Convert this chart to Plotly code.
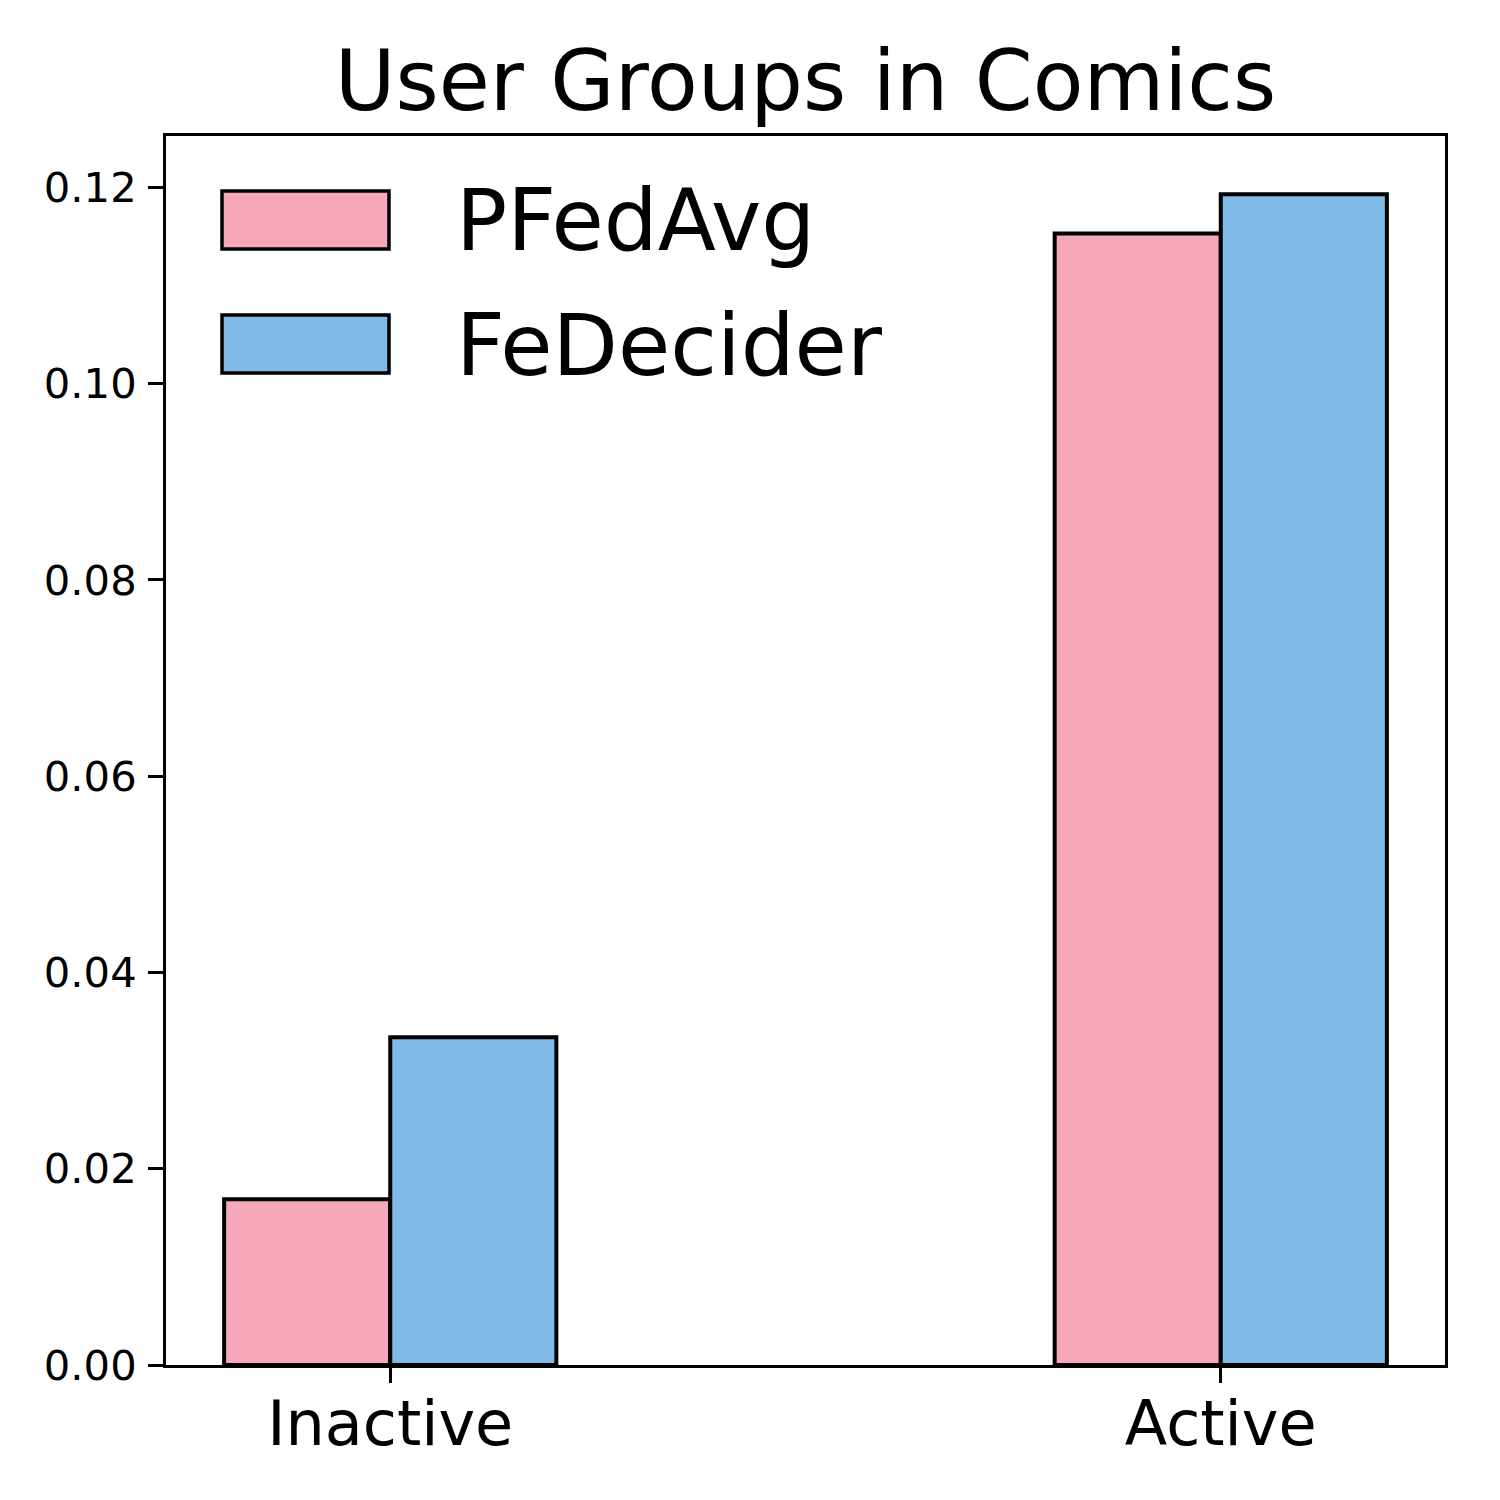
import plotly.graph_objects as go

categories = ["Inactive", "Active"]
series_names = ["PFedAvg", "FeDecider"]
pfedavg = [0.0169, 0.1153]
fedecider = [0.0334, 0.1193]
series_values = [pfedavg, fedecider]
colors = ["#F4A8BA", "#7FB9E5"]
y_ticks = [0.00, 0.02, 0.04, 0.06, 0.08, 0.10, 0.12]

W, H = 1500, 1500
OFF = 8  # page offset
L, R, T, B = 166 - OFF, 55 + OFF, 136 - OFF, 135 + OFF
PW, PH = W - L - R, H - T - B

def px_x(p):
    return (p - OFF - L) / PW

def px_y(p):
    return (H - B - (p - OFF)) / PH

fig = go.Figure()
for name, vals, col in zip(series_names, series_values, colors):
    fig.add_trace(go.Bar(
        x=categories, y=vals, name=name,
        marker=dict(color=col, line=dict(color="black", width=4)),
        showlegend=False,
    ))

# legend drawn as swatches + text
sw_top = [191, 315]
for i, (name, col) in enumerate(zip(series_names, colors)):
    t = sw_top[i]
    fig.add_shape(type="rect", xref="paper", yref="paper",
                  x0=px_x(222), x1=px_x(389), y0=px_y(t + 58), y1=px_y(t),
                  fillcolor=col, line=dict(color="black", width=3.5), layer="above")
    fig.add_annotation(xref="paper", yref="paper", x=px_x(454), y=px_y(t + 30),
                       xanchor="left", yanchor="middle", text=name, showarrow=False,
                       font=dict(size=85, color="black", family="DejaVu Sans"))

fig.update_layout(
    width=W, height=H,
    margin=dict(l=L, r=R, t=T, b=B),
    paper_bgcolor="white", plot_bgcolor="white",
    barmode="group", bargap=0.6, bargroupgap=0,
    font=dict(family="DejaVu Sans", color="black"),
    title=dict(text="User Groups in Comics", xref="paper", x=0.5, xanchor="center",
               yref="container", y=(H - 102) / H, yanchor="bottom",
               font=dict(size=83, family="DejaVu Sans", color="black")),
)
fig.update_xaxes(
    type="category", range=[-0.27, 1.27],
    showline=True, linecolor="black", linewidth=3, mirror=True,
    ticks="outside", ticklen=15, tickwidth=3, tickcolor="black",
    tickfont=dict(size=62, family="DejaVu Sans", color="black"),
    ticklabelstandoff=-12,
    showgrid=False, zeroline=False,
)
fig.update_yaxes(
    range=[0, 0.12524], tickvals=y_ticks, tickformat=".2f",
    showline=True, linecolor="black", linewidth=3, mirror=True,
    ticks="outside", ticklen=15, tickwidth=3, tickcolor="black",
    tickfont=dict(size=41.7, family="DejaVu Sans", color="black"),
    ticklabelstandoff=3,
    showgrid=False, zeroline=False,
)

fig.write_html("out.html")
